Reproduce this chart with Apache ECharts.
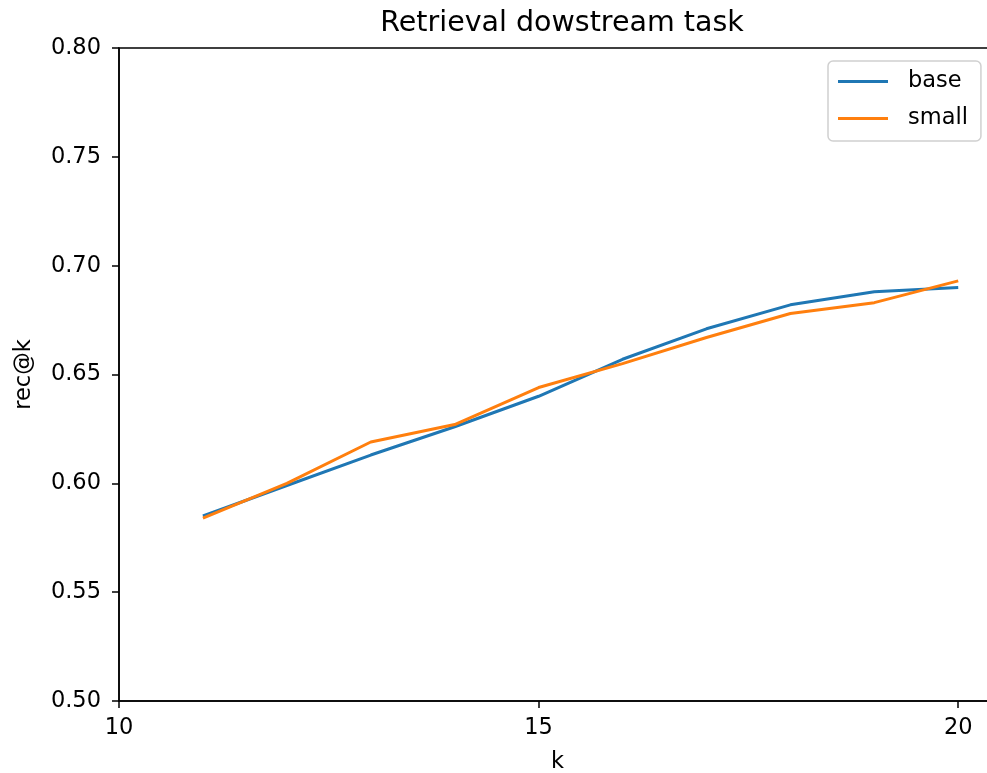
<!DOCTYPE html>
<html>
<head>
<meta charset="utf-8">
<script src="https://cdn.jsdelivr.net/npm/echarts@6/dist/echarts.min.js"></script>
<style>html,body{margin:0;padding:0;background:#fff}#c{width:987px;height:773px}</style>
</head>
<body>
<div id="c"></div>
<script>
const kValues = [11, 12, 13, 14, 15, 16, 17, 18, 19, 20];
const baseValues = [0.585, 0.599, 0.613, 0.626, 0.640, 0.657, 0.671, 0.682, 0.688, 0.690];
const smallValues = [0.584, 0.600, 0.619, 0.627, 0.644, 0.655, 0.667, 0.678, 0.683, 0.693];
const xTicks = [10, 15, 20];
const yTicks = [0.50, 0.55, 0.60, 0.65, 0.70, 0.75, 0.80];

const font = 'DejaVu Sans';
const chart = echarts.init(document.getElementById('c'));
chart.setOption({
  backgroundColor: '#fff',
  animation: false,
  textStyle: { fontFamily: font },
  title: {
    text: 'Retrieval dowstream task',
    left: 557, top: 4, textAlign: 'center',
    textStyle: { fontFamily: font, fontSize: 28.5, fontWeight: 'normal', color: '#000' }
  },
  grid: { left: 119, top: 48, width: 877, bottom: 72, outerBoundsMode: 'none', containLabel: false,
    show: true, borderColor: '#000', borderWidth: 1.5, backgroundColor: 'transparent' },
  legend: {
    orient: 'vertical', left: 828, top: 61,
    data: ['base', 'small'],
    icon: 'rect', itemWidth: 50, itemHeight: 3, itemGap: 14,
    padding: [9, 13, 11, 10],
    borderColor: '#d0d0d0', borderWidth: 1.5, borderRadius: 5,
    textStyle: { fontFamily: font, fontSize: 22.5, color: '#000', padding: [0, 0, 0, 15] }
  },
  xAxis: {
    type: 'value', min: 10, max: 20.45, interval: 5,
    name: 'k', nameLocation: 'middle', nameGap: 50,
    nameTextStyle: { fontFamily: font, fontSize: 22.5, color: '#000' },
    axisLine: { show: true, onZero: false, lineStyle: { color: '#000', width: 1.5 } },
    axisTick: { show: true, length: 7, lineStyle: { color: '#000', width: 1.5 } },
    axisLabel: { fontFamily: font, fontSize: 22.5, color: '#000', margin: 16, showMaxLabel: false,
      formatter: v => xTicks.includes(v) ? String(v) : '' },
    splitLine: { show: false }
  },
  yAxis: {
    type: 'value', min: 0.50, max: 0.80, interval: 0.05,
    name: 'rec@k', nameLocation: 'middle', nameGap: 83, nameRotate: 90,
    nameTextStyle: { fontFamily: font, fontSize: 22.5, color: '#000' },
    axisLine: { show: true, lineStyle: { color: '#000', width: 1.5 } },
    axisTick: { show: true, length: 7, lineStyle: { color: '#000', width: 1.5 } },
    axisLabel: { fontFamily: font, fontSize: 22.5, color: '#000', margin: 18,
      formatter: v => v.toFixed(2) },
    splitLine: { show: false }
  },
  series: [
    { name: 'base', type: 'line', data: kValues.map((k, i) => [k, baseValues[i]]),
      symbol: 'none', lineStyle: { color: '#1f77b4', width: 3 }, itemStyle: { color: '#1f77b4' } },
    { name: 'small', type: 'line', data: kValues.map((k, i) => [k, smallValues[i]]),
      symbol: 'none', lineStyle: { color: '#ff7f0e', width: 3 }, itemStyle: { color: '#ff7f0e' } }
  ]
});
</script>
</body>
</html>
